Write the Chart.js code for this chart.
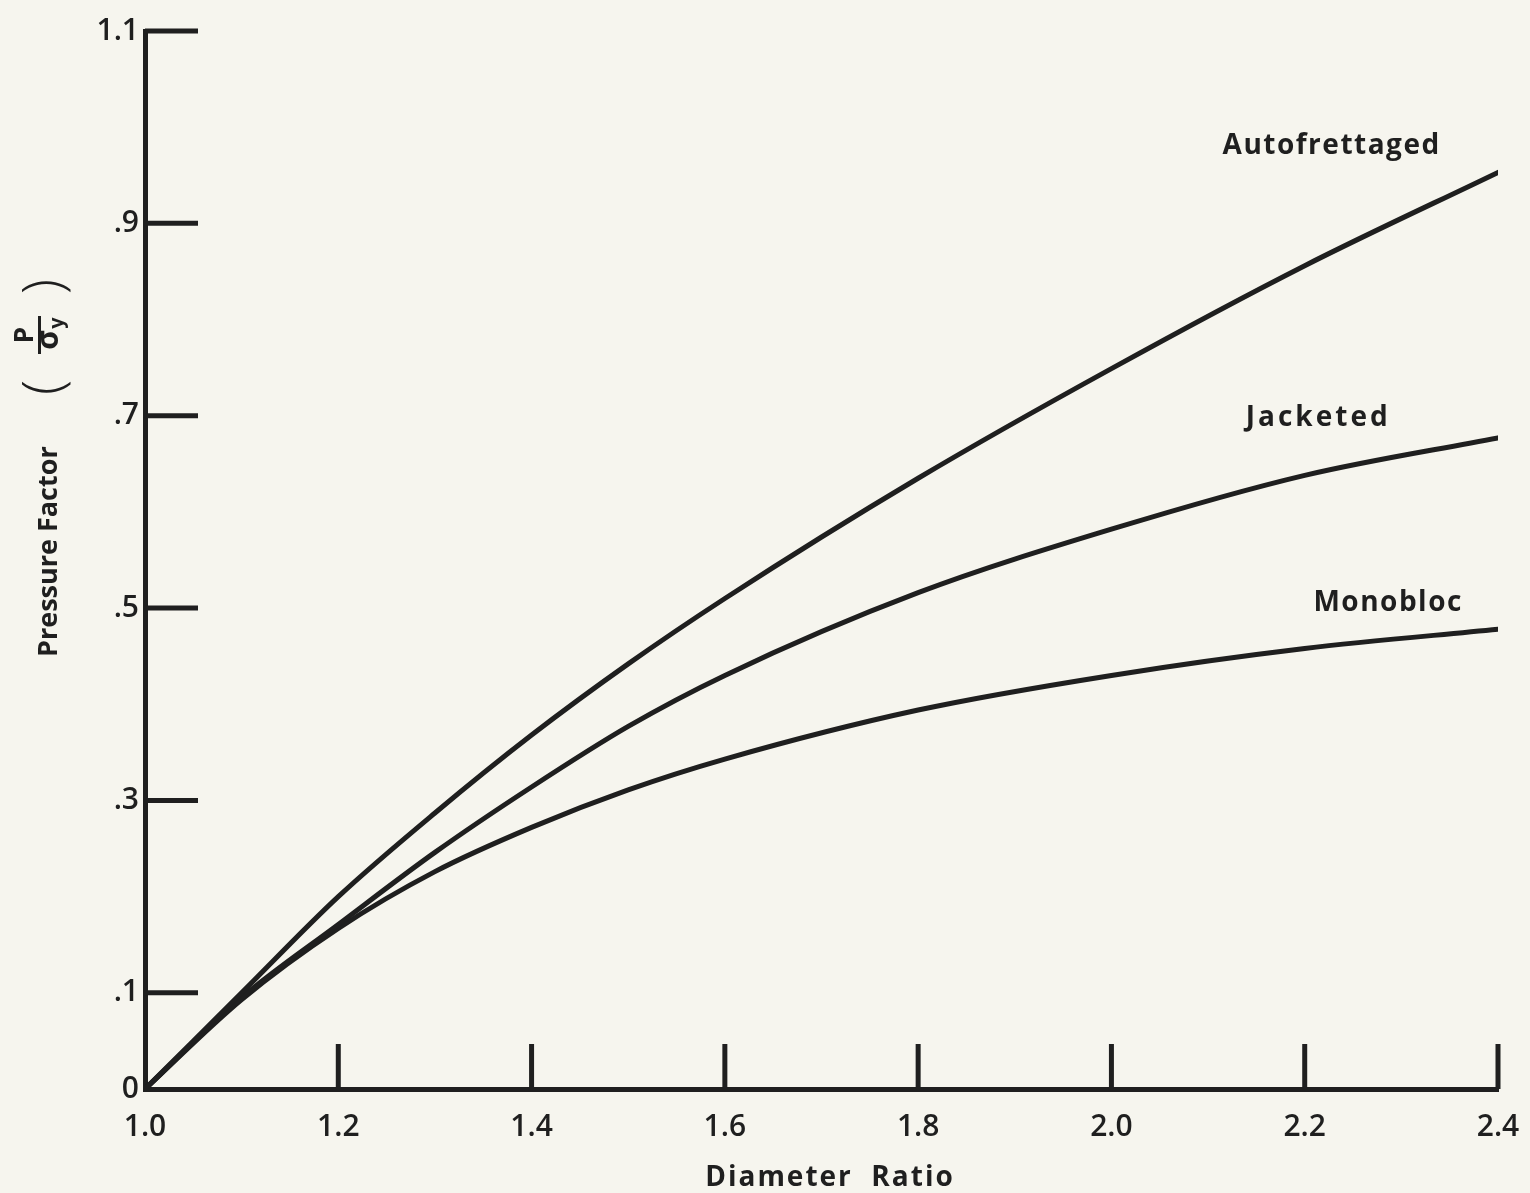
<!DOCTYPE html>
<html>
<head>
<meta charset="utf-8">
<script src="https://cdn.jsdelivr.net/npm/chart.js@4.4.1/dist/chart.umd.min.js"></script>
<style>
  html, body { margin: 0; padding: 0; background: #f5f4ec; }
  #wrap { width: 1530px; height: 1193px; }
</style>
</head>
<body>
<div id="wrap"><canvas id="chart"></canvas></div>
<script>
// Values
const diameterRatio = [1.0, 1.1, 1.2, 1.3, 1.4, 1.5, 1.6, 1.8, 2.0, 2.2, 2.4];
const autofrettaged = [0, 0.100, 0.200, 0.287, 0.368, 0.442, 0.510, 0.635, 0.749, 0.856, 0.953];
const jacketed      = [0, 0.095, 0.171, 0.246, 0.314, 0.377, 0.430, 0.516, 0.582, 0.638, 0.677];
const monobloc      = [0, 0.093, 0.167, 0.226, 0.272, 0.311, 0.343, 0.394, 0.430, 0.458, 0.478];

const yTickValues = [0, 0.1, 0.3, 0.5, 0.7, 0.9, 1.1];
const xTickValues = [1.0, 1.2, 1.4, 1.6, 1.8, 2.0, 2.2, 2.4];

const ink = '#1f1f1f';
const paper = '#f6f5ee';
const fontFamily = '"Open Sans", "DejaVu Sans", sans-serif';

Chart.defaults.font.family = fontFamily;
Chart.defaults.color = ink;

const toPoints = ys => diameterRatio.map((x, i) => ({ x: x, y: ys[i] }));

// curve names sit just above the right end of each curve
const curveLabels = [
  { text: 'Autofrettaged', x: 2.115, y: 0.98, spacing: 1.5 },
  { text: 'Jacketed', x: 2.139, y: 0.698, spacing: 3 },
  { text: 'Monobloc', x: 2.209, y: 0.505, spacing: 1.5 }
];

// paper colour behind everything
const paperBg = {
  id: 'paperBg',
  beforeDraw(chart) {
    const ctx = chart.ctx;
    ctx.save();
    ctx.fillStyle = paper;
    ctx.fillRect(0, 0, chart.width, chart.height);
    ctx.restore();
  }
};

// tick marks drawn inward from the axes
const innerTicks = {
  id: 'innerTicks',
  afterDatasetsDraw(chart) {
    const { ctx, chartArea, scales } = chart;
    ctx.save();
    ctx.strokeStyle = ink;
    ctx.lineWidth = 5;
    ctx.lineCap = 'butt';
    yTickValues.filter(v => v > 0).forEach(v => {
      const y = scales.y.getPixelForValue(v);
      ctx.beginPath();
      ctx.moveTo(chartArea.left, y);
      ctx.lineTo(chartArea.left + 53, y);
      ctx.stroke();
    });
    xTickValues.filter(v => v > 1.0).forEach(v => {
      const x = scales.x.getPixelForValue(v);
      ctx.beginPath();
      ctx.moveTo(x, chartArea.bottom);
      ctx.lineTo(x, chartArea.bottom - 45);
      ctx.stroke();
    });
    ctx.restore();
  }
};

// axis titles and curve names
const figureText = {
  id: 'figureText',
  afterDraw(chart) {
    const { ctx, scales } = chart;
    ctx.save();
    ctx.fillStyle = ink;

    // curve names
    ctx.font = '700 28px ' + fontFamily;
    ctx.textAlign = 'left';
    ctx.textBaseline = 'middle';
    curveLabels.forEach(l => {
      ctx.letterSpacing = l.spacing + 'px';
      ctx.fillText(l.text, scales.x.getPixelForValue(l.x), scales.y.getPixelForValue(l.y));
    });

    // x title
    ctx.letterSpacing = '2px';
    ctx.textAlign = 'center';
    ctx.textBaseline = 'alphabetic';
    ctx.fillText('Diameter  Ratio', 830, 1186);

    // y title, rotated, with the P / σy fraction
    ctx.translate(57, 657);
    ctx.rotate(-Math.PI / 2);
    ctx.textAlign = 'left';
    ctx.letterSpacing = '0px';
    ctx.font = '700 27px ' + fontFamily;
    ctx.fillText('Pressure Factor', 0, 0);

    ctx.font = '300 56px ' + fontFamily;
    ctx.fillText('(', 262, 5);
    ctx.textAlign = 'right';
    ctx.fillText(')', 378, 5);

    const uc = 322;
    ctx.textAlign = 'center';
    ctx.font = '700 26px ' + fontFamily;
    ctx.fillText('P', uc, -24);
    ctx.fillRect(uc - 19, -19, 38, 3);
    ctx.font = '700 30px ' + fontFamily;
    ctx.fillText('σ', uc - 5, 1);
    ctx.font = '700 20px ' + fontFamily;
    ctx.fillText('y', uc + 12, 6);

    ctx.restore();
  }
};

new Chart(document.getElementById('chart'), {
  type: 'line',
  data: {
    datasets: [
      { label: 'Autofrettaged', data: toPoints(autofrettaged) },
      { label: 'Jacketed', data: toPoints(jacketed) },
      { label: 'Monobloc', data: toPoints(monobloc) }
    ]
  },
  options: {
    responsive: true,
    maintainAspectRatio: false,
    animation: false,
    layout: { padding: { top: 31, right: 32, left: 0, bottom: 0 } },
    elements: {
      point: { radius: 0 },
      line: {
        borderColor: ink,
        borderWidth: 5,
        borderCapStyle: 'round',
        fill: false,
        cubicInterpolationMode: 'monotone'
      }
    },
    plugins: {
      legend: { display: false },
      tooltip: { enabled: false }
    },
    scales: {
      x: {
        type: 'linear',
        min: 1.0,
        max: 2.4,
        afterBuildTicks: s => { s.ticks = xTickValues.map(v => ({ value: v })); },
        afterFit: s => { s.height = 104; s.paddingLeft = 0; s.paddingRight = 0; },
        grid: { display: false, drawTicks: false },
        border: { display: true, color: ink, width: 5 },
        ticks: {
          padding: 20,
          font: { size: 30, weight: '600' },
          color: ink,
          maxRotation: 0,
          callback: v => v.toFixed(1)
        }
      },
      y: {
        type: 'linear',
        min: 0,
        max: 1.1,
        afterBuildTicks: s => { s.ticks = yTickValues.map(v => ({ value: v })); },
        afterFit: s => { s.width = 145; s.paddingTop = 0; s.paddingBottom = 0; },
        grid: { display: false, drawTicks: false },
        border: { display: true, color: ink, width: 5 },
        ticks: {
          padding: 6,
          font: { size: 30, weight: '600' },
          color: ink,
          callback: v => v === 0 ? '0' : (v >= 1 ? v.toFixed(1) : '.' + Math.round(v * 10))
        }
      }
    }
  },
  plugins: [paperBg, innerTicks, figureText]
});
</script>
</body>
</html>
